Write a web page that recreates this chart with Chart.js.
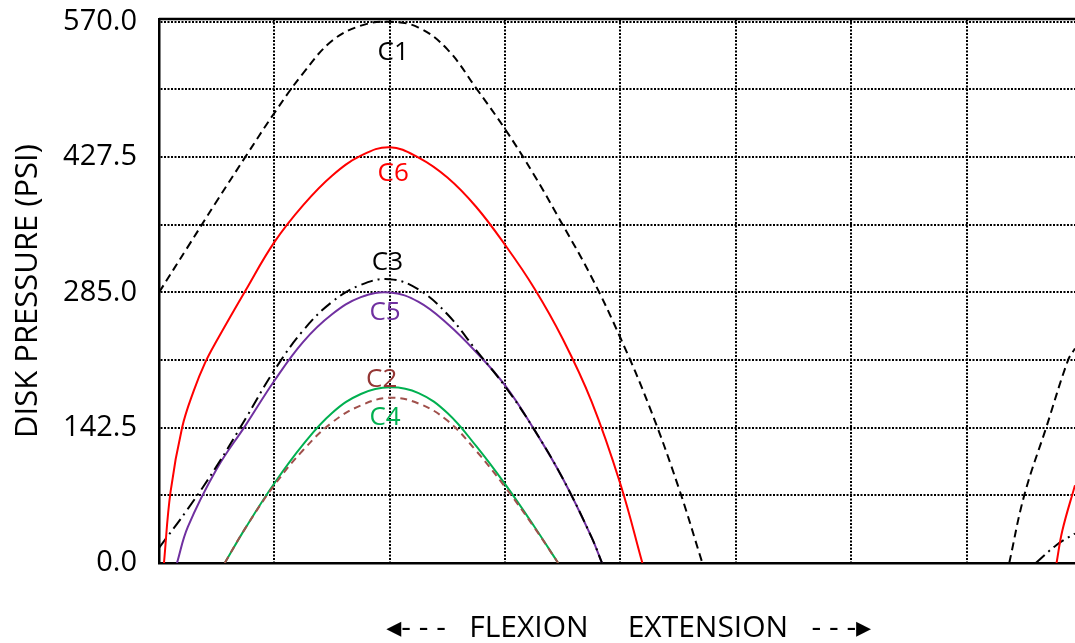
<!DOCTYPE html>
<html>
<head>
<meta charset="utf-8">
<script src="https://cdn.jsdelivr.net/npm/chart.js@4.4.1/dist/chart.umd.min.js"></script>
<style>
  html, body { margin: 0; padding: 0; background: #fff; overflow: hidden; }
  #wrap { width: 1075px; height: 643px; position: relative; }
</style>
</head>
<body>
<div id="wrap"><canvas id="chart"></canvas></div>
<script>
// y axis ticks (PSI), every other one labelled
const yTicks = [0, 71.25, 142.5, 213.75, 285, 356.25, 427.5, 498.75, 570]
// x grid positions (no labels on the x axis)
const xTicks = [0, 1, 2, 3, 4, 5, 6, 7]

// C1 - black dashed
const c1X = [0, 0.25, 0.5, 0.75, 1.0, 1.25, 1.5, 1.75, 2.0, 2.25, 2.5, 2.75, 3.0, 3.25, 3.5, 3.75, 4.0, 4.25, 4.5, 4.71]
const c1Y = [285, 333, 381, 428, 474, 516, 550, 566, 570, 564, 541, 500, 457, 409, 356, 301, 237, 165, 81, 0]
const c1bX = [7.37, 7.50, 7.69, 7.88, 7.94]
const c1bY = [0, 71.25, 142.5, 213.75, 226]

// C6 - red
const c6X = [0.043, 0.1, 0.2, 0.3, 0.4, 0.5, 0.75, 1.0, 1.25, 1.5, 1.75, 2.0, 2.25, 2.5, 2.75, 3.0, 3.25, 3.5, 3.75, 4.0, 4.19]
const c6Y = [0, 75, 142.5, 181, 211, 234, 287, 338, 377, 408, 429, 438, 427, 406, 375, 335, 290, 236, 170, 83, 0]
const c6bX = [7.78, 7.83, 7.94]
const c6bY = [0, 34, 82]

// C3 - black dash-dot
const c3X = [0, 0.25, 0.5, 0.75, 1.0, 1.25, 1.5, 1.75, 2.0, 2.25, 2.5, 2.75, 3.0, 3.25, 3.5, 3.75, 3.84]
const c3Y = [16, 57, 102, 152, 203, 245, 275, 293, 299, 288, 262, 224, 186, 141, 89, 27, 0]
const c3bX = [7.60, 7.78, 7.94]
const c3bY = [0, 19, 31]

// C5 - purple
const c5X = [0.156, 0.25, 0.5, 0.75, 1.0, 1.25, 1.5, 1.75, 2.0, 2.25, 2.5, 2.75, 3.0, 3.25, 3.5, 3.75, 3.84]
const c5Y = [0, 38, 99, 145, 192, 233, 262, 280, 285, 275, 252, 222, 187, 141, 89, 27, 0]

// C2 - brown dashed
const c2X = [0.57, 0.75, 1.0, 1.25, 1.5, 1.75, 2.0, 2.25, 2.5, 2.75, 3.0, 3.25, 3.46]
const c2Y = [0, 37, 82, 119, 148, 166, 174, 168, 150, 118, 80, 38, 0]

// C4 - green
const c4X = [0.57, 0.75, 1.0, 1.25, 1.5, 1.75, 2.0, 2.25, 2.5, 2.75, 3.0, 3.25, 3.46]
const c4Y = [0, 37, 84, 125, 158, 178, 185, 179, 158, 123, 83, 39, 0]

// curve names, written next to the peaks
const labelText = ['C1', 'C6', 'C3', 'C5', 'C2', 'C4']
const labelX = [2.03, 2.03, 1.98, 1.96, 1.93, 1.96]
const labelY = [538, 410, 316, 264, 193, 153]
const labelColor = ['#000000', '#FF0000', '#000000', '#7030A0', '#943634', '#00B050']

const FONT = "'Open Sans', 'DejaVu Sans', sans-serif"

function pts(xs, ys) {
  return xs.map((x, i) => ({ x, y: ys[i] }))
}

function line(data, color, dash) {
  return {
    data,
    borderColor: color,
    borderWidth: 2,
    borderDash: dash || [],
    pointRadius: 0,
    fill: false,
    tension: 0.4
  }
}

const frameAndLabels = {
  id: 'frameAndLabels',
  afterDatasetsDraw(chart) {
    const { ctx, chartArea, scales } = chart
    ctx.save()
    // top frame line
    ctx.strokeStyle = '#000'
    ctx.lineWidth = 2.5
    ctx.beginPath()
    ctx.moveTo(chartArea.left, chartArea.top)
    ctx.lineTo(chartArea.right, chartArea.top)
    ctx.stroke()

    ctx.font = '26px ' + FONT
    ctx.textAlign = 'center'
    ctx.textBaseline = 'middle'
    labelText.forEach((t, i) => {
      ctx.fillStyle = labelColor[i]
      ctx.fillText(t, scales.x.getPixelForValue(labelX[i]), scales.y.getPixelForValue(labelY[i]))
    })
    ctx.restore()
  }
}

new Chart(document.getElementById('chart'), {
  type: 'line',
  data: {
    datasets: [
      line(pts(c1X, c1Y), '#000000', [8, 5]),
      line(pts(c1bX, c1bY), '#000000', [8, 5]),
      line(pts(c6X, c6Y), '#FF0000'),
      line(pts(c6bX, c6bY), '#FF0000'),
      line(pts(c3X, c3Y), '#000000', [12, 5, 2, 5]),
      line(pts(c3bX, c3bY), '#000000', [12, 5, 2, 5]),
      line(pts(c5X, c5Y), '#7030A0'),
      line(pts(c2X, c2Y), '#A0504B', [7, 5]),
      line(pts(c4X, c4Y), '#00B050')
    ]
  },
  options: {
    responsive: true,
    maintainAspectRatio: false,
    animation: false,
    layout: { padding: { top: 19, right: 0, left: 0, bottom: 0 } },
    plugins: {
      legend: { display: false },
      tooltip: { enabled: false }
    },
    scales: {
      x: {
        type: 'linear',
        min: 0,
        max: 7.94,
        afterBuildTicks: (s) => { s.ticks = xTicks.map(v => ({ value: v })) },
        afterFit: (s) => { s.height = 80 },
        ticks: { display: false },
        grid: { color: '#000', lineWidth: 2, drawTicks: false },
        border: { display: true, color: '#000', width: 2.5, dash: [2, 1.5] },
        title: {
          display: true,
          text: '   ◂- - -   FLEXION     EXTENSION   - - -▸',
          color: '#000',
          font: { family: FONT, size: 30, lineHeight: 1 },
          padding: { top: 0, bottom: 0 }
        }
      },
      y: {
        min: 0,
        max: 573,
        afterBuildTicks: (s) => { s.ticks = yTicks.map(v => ({ value: v })) },
        afterFit: (s) => { s.width = 159 },
        ticks: {
          color: '#000',
          font: { family: FONT, size: 29 },
          padding: 0,
          callback: (v, i) => (i % 2 === 0 ? Number(v).toFixed(1) : '')
        },
        grid: { color: '#000', lineWidth: 2, drawTicks: true, tickLength: 22, tickColor: 'rgba(0,0,0,0)' },
        border: { display: true, color: '#000', width: 2.5, dash: [2, 1.5] },
        title: {
          display: true,
          text: 'DISK PRESSURE (PSI)',
          color: '#000',
          font: { family: FONT, size: 31 },
          padding: { top: 10, bottom: 0 }
        }
      }
    }
  },
  plugins: [frameAndLabels]
})
</script>
</body>
</html>
